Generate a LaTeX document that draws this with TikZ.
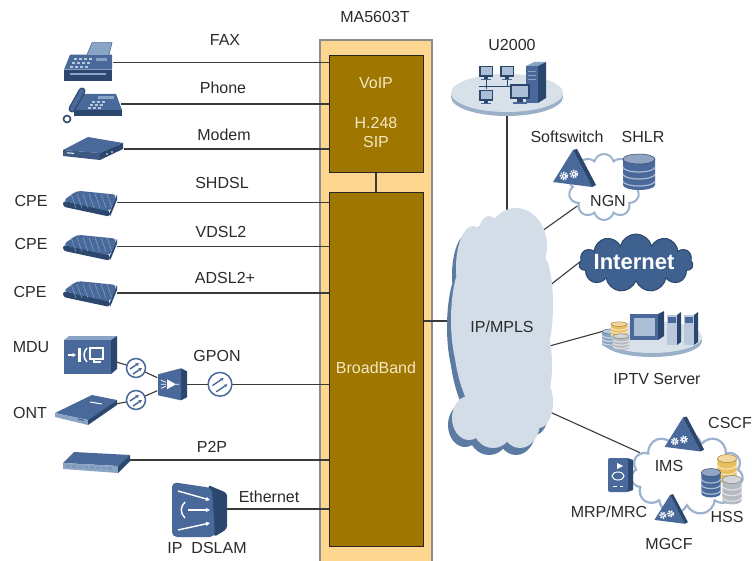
\documentclass[tikz,border=0pt]{standalone}
\usepackage{fontspec}
\setmainfont{Liberation Sans}
\usetikzlibrary{shapes.symbols,shapes.geometric,arrows.meta}

\definecolor{devblue}{HTML}{48699A}
\definecolor{devdark}{HTML}{2B476E}
\definecolor{devlight}{HTML}{8AA4C6}
\definecolor{boxouter}{HTML}{FDD68F}
\definecolor{boxedge}{HTML}{8C8C8C}
\definecolor{boxinner}{HTML}{9F7700}
\definecolor{boxtext}{HTML}{F5E7C4}
\definecolor{cloudfill}{HTML}{D3DDE8}
\definecolor{cloudshade}{HTML}{5B7BA3}
\definecolor{cloudline}{HTML}{9DB2CE}
\definecolor{netdark}{HTML}{3F6190}
\definecolor{platetop}{HTML}{D8E0EA}
\definecolor{plateedge}{HTML}{9AAFC8}
\definecolor{linkgray}{HTML}{3A3A3A}
\definecolor{txt}{HTML}{2A2A2A}
\definecolor{hssyellow}{HTML}{E9BE5E}
\definecolor{hssgray}{HTML}{B5BAC0}

\pgfdeclarelayer{chassis}
\pgfdeclarelayer{wires}
\pgfsetlayers{chassis,wires,main}

\tikzset{
  lbl/.style={font=\fontsize{16}{19}\selectfont, text=txt, inner sep=0pt},
  boxlbl/.style={font=\fontsize{16}{19}\selectfont, text=boxtext, inner sep=0pt},
  link/.style={draw=linkgray, line width=1.1pt},
  slot/.style={rectangle, inner sep=0pt},
  unitbox/.style={rectangle, fill=boxinner, draw=black!85, line width=0.9pt, inner sep=0pt},
  puffs/.style={cloud, cloud ignores aspect, inner sep=0pt},
  pics/cpe/.style={code={
    \fill[devdark, rounded corners=3pt] (-27,-2) -- (20,8) -- (20,14) -- (-27,4) -- cycle;
    \fill[devblue, rounded corners=4pt] (-27,-2) -- (-13,-12) -- (27,-8) -- (20,9) -- cycle;
    \foreach \k in {0,...,6} \draw[devlight, line width=0.5pt] (-19+6*\k,-9) -- (-14+6*\k,5);
    \fill[devdark] (20,9) -- (27,-8) -- (27,-3) -- (20,14) -- cycle;
  }},
  pics/fiber/.style={code={
    \draw[devblue, fill=white, line width=1.5pt] (0,0) circle (9.5pt);
    \draw[devblue, line width=1.4pt, -{Stealth[length=3.5pt,width=3.5pt]}] (-6,1) -- (3,-5);
    \draw[devblue, line width=1.4pt, -{Stealth[length=3.5pt,width=3.5pt]}] (-3,6) -- (6,0);
  }},
  pics/svc/.style={code={
    \fill[devblue] (-20,14) -- (0,-18) -- (19,19) -- cycle;
    \fill[devdark] (0,-18) -- (4,-19) -- (23,17) -- (19,19) -- cycle;
    \foreach \gx/\gy in {-9/8, 1/6} {
      \draw[white, line width=1.8pt, dash pattern=on 1.3pt off 1.1pt] (\gx,\gy) circle (3.4pt);
      \fill[white] (\gx,\gy) circle (2.3pt);
      \fill[devblue] (\gx,\gy) circle (1pt);
    }
  }},
  pics/db/.style={code={
    \fill[#1] (-16,-13) -- (-16,13) arc[start angle=180,end angle=360,x radius=16pt,y radius=5pt] -- (16,-13) -- cycle;
    \foreach \yy in {-5,2,9} \draw[#1!45!white, line width=1.2pt] (-16,\yy) arc[start angle=180,end angle=360,x radius=16pt,y radius=5pt];
    \fill[#1!60!white] (0,-13) ellipse [x radius=16pt, y radius=5pt];
    \draw[#1!70!black, line width=0.5pt] (0,-13) ellipse [x radius=16pt, y radius=5pt];
  }},
  pics/monitor/.style={code={
    \fill[devdark] (-7,-6) rectangle (7,5);
    \fill[devlight!70!white] (-5.5,-4.5) rectangle (5.5,3.5);
    \fill[devdark] (-2,5) rectangle (2,7);
    \fill[devblue] (-5,7) rectangle (5,8.5);
  }},
  % tall backbone cloud built from overlapping lobes
  pics/backbone/.style={code={
    \fill[#1]
      (0,0) ellipse [x radius=48pt, y radius=100pt]
      (15,-84) ellipse [x radius=31pt, y radius=38pt]
      (-12,-78) ellipse [x radius=14pt, y radius=36pt]
      (-28,-62) ellipse [x radius=17pt, y radius=42pt]
      (-33,-10) ellipse [x radius=17pt, y radius=60pt]
      (-32,88) ellipse [x radius=17pt, y radius=22pt]
      (-8,94) ellipse [x radius=21pt, y radius=24pt]
      (19,92) ellipse [x radius=20pt, y radius=26pt]
      (38,72) ellipse [x radius=14pt, y radius=26pt]
      (42,-25) ellipse [x radius=10pt, y radius=48pt]
      (41,35) ellipse [x radius=10pt, y radius=40pt];
  }}
}

\begin{document}
\begin{tikzpicture}[x=1pt,y=-1pt]
\useasboundingbox (0,0) rectangle (752,561);

% ---------- MA5603T chassis ----------
\begin{pgfonlayer}{chassis}
  \fill[boxouter] (320,40) rectangle (432,566);
  \draw[boxedge, line width=1.2pt] (320,566) -- (320,40) -- (432,40) -- (432,566);
\end{pgfonlayer}
\node[unitbox, minimum width=94, minimum height=117] (voip) at (376,113.5) {};
\node[unitbox, minimum width=94, minimum height=354] (bb) at (376,369) {};
\node[lbl] (chassisname) at (375,17) {MA5603T};
\node[boxlbl] (voiptxt) at (376,83) {VoIP};
\node[boxlbl] (h248txt) at (376,123) {H.248};
\node[boxlbl] (siptxt) at (376,142) {SIP};
\node[boxlbl] (bbtxt) at (376,368) {BroadBand};

% ---------- user side devices ----------
\node[slot, minimum width=49, minimum height=38] (fax) at (88,62.7) {};
\node[slot, minimum width=58, minimum height=35] (phone) at (92,104) {};
\node[slot, minimum width=60, minimum height=23] (modem) at (94,149) {};
\node[slot, minimum width=54, minimum height=28] (cpe1) at (90,202.7) {};
\node[slot, minimum width=54, minimum height=28] (cpe2) at (90,246.7) {};
\node[slot, minimum width=54, minimum height=28] (cpe3) at (90,293) {};
\node[slot, minimum width=53, minimum height=37] (mdu) at (90,354) {};
\node[slot, minimum width=62, minimum height=30] (ont) at (86,410) {};
\node[circle, inner sep=0pt, minimum size=19] (f1) at (136,368) {};
\node[circle, inner sep=0pt, minimum size=19] (f2) at (136,400) {};
\node[slot, minimum width=29, minimum height=32] (split) at (172,384.3) {};
\node[circle, inner sep=0pt, minimum size=24] (fg) at (220,384.3) {};
\node[slot, minimum width=67, minimum height=22] (p2p) at (96,460) {};
\node[slot, minimum width=55, minimum height=54] (dslam) at (198,509) {};

% ---------- network side ----------
\node[ellipse, inner sep=0pt, minimum width=112, minimum height=42] (u2000) at (507,94) {};
\pic at (497,337) {backbone=cloudshade};
\pic at (501,330) {backbone=cloudfill};
\node[ellipse, inner sep=0pt, minimum width=100, minimum height=244] (mpls) at (501,330) {};
\node[puffs, cloud puffs=10, minimum width=72, minimum height=66, fill=white, draw=cloudline, line width=2pt] (ngn) at (604,187) {};
\node[puffs, cloud puffs=11, minimum width=114, minimum height=58, fill=netdark, draw=devdark, line width=1pt] (inet) at (636,263) {};
\node[ellipse, inner sep=0pt, minimum width=100, minimum height=36] (iptv) at (652,337) {};
\node[puffs, cloud puffs=11, minimum width=112, minimum height=82, fill=white, draw=cloudline, line width=2.2pt] (ims) at (687,474) {};

\coordinate (mpls-w) at (470,321);
\coordinate (mpls-ngn) at (528,241);
\coordinate (mpls-inet) at (540,293);
\coordinate (inet-w) at (590,254);
\coordinate (mpls-iptv) at (535,350);
\coordinate (iptv-w) at (615,328);
\coordinate (mpls-ims) at (530,403);

% ---------- connectors ----------
\begin{pgfonlayer}{wires}
  \draw[link] (voip.south) -- (bb.north);
  \foreach \d in {fax,phone,modem} \draw[link] (\d) -- (\d -| voip.west);
  \foreach \d in {cpe1,cpe2,cpe3,p2p,dslam} \draw[link] (\d) -- (\d -| bb.west);
  \draw[link] (mdu) -- (f1) -- (split);
  \draw[link] (ont) -- (f2) -- (split);
  \draw[link] (split) -- (fg) -- (fg -| bb.west);
  \draw[link] (bb.east |- mpls-w) -- (mpls-w);
  \draw[link] (u2000.center) -- (u2000.center |- mpls.center);
  \draw[link] (mpls-ngn) -- (ngn);
  \draw[link] (mpls-inet) -- (inet-w);
  \draw[link] (mpls-iptv) -- (iptv-w);
  \draw[link] (mpls-ims) -- (ims);
\end{pgfonlayer}

% ---------- icons: fax ----------
\begin{scope}[shift={(fax.center)}]
  \fill[devlight] (-1,-8) -- (4,-20) -- (24,-20) -- (21,-8) -- cycle;
  \draw[devblue, line width=0.6pt] (-1,-8) -- (4,-20) -- (24,-20) -- (21,-8);
  \fill[devblue] (-24,7) -- (-18,-8) -- (24,-8) -- (24,7) -- cycle;
  \fill[devdark] (-24,7) rectangle (24,18);
  \fill[devlight] (-18,10) rectangle (18,12.5);
  \foreach \i in {0,1,2,3} \foreach \j in {0,1,2}
    \fill[devlight!60!white] (-14+5*\i-2*\j,-5+4*\j) rectangle ++(3,2);
  \fill[devlight] (8,-5) rectangle (19,-2);
\end{scope}

% ---------- phone ----------
\begin{scope}[shift={(phone.center)}]
  \fill[devblue] (-18,6) -- (-9,-10) -- (24,-10) -- (30,6) -- cycle;
  \fill[devdark] (-18,6) rectangle (30,12);
  \fill[devlight] (6,-8) rectangle (22,-5);
  \foreach \i in {0,1,2} \foreach \j in {0,1,2}
    \fill[devlight!60!white] (0+5*\i-2*\j,-3+3*\j) rectangle ++(3,1.8);
  \draw[devdark, line width=7pt, line cap=round] (-20,5) -- (-10,-13);
  \draw[devblue, line width=4.5pt, line cap=round] (-20,5) -- (-10,-13);
  \draw[devdark, line width=1.6pt] (-25,15) circle (3.5pt);
\end{scope}

% ---------- modem ----------
\begin{scope}[shift={(modem.center)}]
  \fill[devblue] (-31,1) -- (-6,-12) -- (29,-6) -- (6,4) -- cycle;
  \fill[devblue!85!black] (-31,1) -- (6,4) -- (6,11) -- (-31,7) -- cycle;
  \fill[devdark] (6,4) -- (29,-6) -- (29,0) -- (6,11) -- cycle;
  \draw[white, line width=1pt] (-27,3.8) -- (-20,4.4);
  \fill[white] (13,5) circle (0.9pt) (18,3) circle (0.9pt);
\end{scope}

% ---------- CPEs ----------
\pic at (cpe1.center) {cpe};
\pic at (cpe2.center) {cpe};
\pic at (cpe3.center) {cpe};

% ---------- MDU ----------
\begin{scope}[shift={(mdu.center)}]
  \fill[devlight] (-26,-14) -- (-21,-18) -- (27,-18) -- (21,-14) -- cycle;
  \fill[devdark] (21,-14) -- (27,-18) -- (27,15) -- (21,20) -- cycle;
  \fill[devblue] (-26,-14) rectangle (21,20);
  \draw[white, line width=1.6pt, -{Triangle[length=3.5pt,width=4pt]}] (-22,1) -- (-14,1);
  \fill[white] (-12,-6) rectangle (-9.5,8);
  \draw[white, line width=1.5pt] (-3,-6) .. controls (-7,-2) and (-7,4) .. (-3,8);
  \draw[white, line width=1.6pt] (0,-6) rectangle (13,5);
  \draw[white, line width=1.4pt] (4,5) -- (4,8) -- (11,8);
\end{scope}

% ---------- ONT ----------
\begin{scope}[shift={(ont.center)}]
  \fill[devblue] (-31,3) -- (6,-15) -- (31,-10) -- (2,10) -- cycle;
  \fill[devlight] (-31,3) -- (2,10) -- (2,15) -- (-31,7) -- cycle;
  \fill[devdark] (2,10) -- (31,-10) -- (31,-5) -- (2,15) -- cycle;
  \draw[white, line width=1pt] (4,-8) -- (16,-6);
  \draw[devdark, line width=0.8pt] (-8,9) -- (-2,10.5);
\end{scope}

% ---------- optical path ----------
\pic at (f1.center) {fiber};
\pic at (f2.center) {fiber};
\pic[scale=1.25] at (fg.center) {fiber};
\begin{scope}[shift={(split.center)}]
  \fill[devdark] (9,-16) -- (15,-13) -- (15,13) -- (9,16) -- cycle;
  \fill[devblue] (-14,-10) -- (9,-16) -- (9,16) -- (-14,11) -- cycle;
  \fill[white] (-5,-5) -- (4,0) -- (-5,5) -- cycle;
  \draw[white, line width=0.8pt] (-11,-4) -- (-6,-2) (-11,0) -- (-6,0) (-11,4) -- (-6,2) (4,0) -- (7,0);
\end{scope}

% ---------- P2P switch ----------
\begin{scope}[shift={(p2p.center)}]
  \fill[devblue] (-33,3) -- (-22,-8) -- (34,-5) -- (22,6) -- cycle;
  \fill[devlight] (-33,3) -- (22,6) -- (22,13) -- (-33,9) -- cycle;
  \fill[devdark] (22,6) -- (34,-5) -- (34,1) -- (22,13) -- cycle;
  \foreach \k in {0,...,7} \fill[devblue!70!white] (-30+6*\k,5+0.33*\k) rectangle ++(4,2.2);
\end{scope}

% ---------- IP DSLAM ----------
\begin{scope}[shift={(dslam.center)}]
  \fill[devdark, rounded corners=3pt] (10,-24) -- (29,-16) -- (29,20) -- (16,28) -- cycle;
  \fill[devblue, rounded corners=5pt] (-26,-27) -- (14,-21) -- (17,28) -- (-26,28) -- cycle;
  \draw[white, line width=1.4pt, -{Triangle[length=4pt,width=4pt]}] (-20,-18) -- (12,-9);
  \draw[white, line width=1.4pt, -{Triangle[length=4pt,width=4pt]}] (-10,1) -- (12,1);
  \draw[white, line width=1.4pt, -{Triangle[length=4pt,width=4pt]}] (-20,21) -- (12,14);
  \draw[white, line width=1.4pt] (-13,-7) .. controls (-18,-2) and (-18,4) .. (-13,9);
\end{scope}

% ---------- U2000 ----------
\fill[plateedge] (507,97) ellipse [x radius=56pt, y radius=19pt];
\fill[platetop] (507,93) ellipse [x radius=56pt, y radius=19pt];
\draw[devdark, line width=0.8pt] (479,86) -- (518,86) (486,86) -- (486,80) (507,86) -- (507,80) (486,86) -- (486,89);
\pic at (486,72) {monitor};
\pic at (507,72) {monitor};
\pic at (486,96) {monitor};
\fill[devlight] (526,66) -- (534,62) -- (546,62) -- (538,66) -- cycle;
\fill[devdark] (538,66) -- (546,62) -- (546,98) -- (538,103) -- cycle;
\fill[devblue] (526,66) rectangle (538,103);
\foreach \k in {0,1,2} \draw[devlight, line width=0.8pt] (528,71+4*\k) -- (536,71+4*\k);
\pic[scale=1.4] at (520,92) {monitor};

% ---------- NGN ----------
\pic at (573,168) {svc};
\pic at (639,172) {db=devblue};

% ---------- IPTV server ----------
\fill[plateedge] (652,341) ellipse [x radius=50pt, y radius=16pt];
\fill[platetop] (652,337) ellipse [x radius=50pt, y radius=16pt];
\pic[xscale=0.55,yscale=0.5] at (611,338) {db=devlight};
\pic[xscale=0.5,yscale=0.45] at (619,330) {db=hssyellow};
\pic[xscale=0.5,yscale=0.45] at (621,342) {db=hssgray};
\fill[devdark] (658,314) -- (664,311) -- (664,336) -- (658,340) -- cycle;
\fill[devblue] (630,314) rectangle (658,340);
\fill[devlight!70!white] (634,318) rectangle (655,336);
\foreach \sx in {667,684} {
  \fill[devdark] (\sx+10,315) -- (\sx+14,312) -- (\sx+14,342) -- (\sx+10,345) -- cycle;
  \fill[devlight!60!white] (\sx,315) rectangle (\sx+10,345);
  \fill[devblue] (\sx+1,317) rectangle (\sx+9,323);
}

% ---------- IMS ----------
\pic[scale=0.92] at (683,434) {svc};
\pic[scale=0.78] at (670,509) {svc};
\pic[xscale=0.6,yscale=0.8] at (727,469) {db=hssyellow};
\pic[xscale=0.6,yscale=0.8] at (711,483) {db=devblue};
\pic[xscale=0.6,yscale=0.8] at (732,490) {db=hssgray};
\begin{scope}[shift={(620,475)}]
  \fill[devdark] (7,-17) -- (13,-15) -- (13,15) -- (7,17) -- cycle;
  \fill[devblue, rounded corners=2pt] (-12,-17) rectangle (8,17);
  \fill[white] (-3,-12) -- (3,-9) -- (-3,-6) -- cycle;
  \draw[white, line width=1pt] (-2,1) ellipse [x radius=6pt, y radius=4pt];
  \draw[white, line width=0.8pt] (-7,11) -- (-3,11) (0,11) -- (3,11);
\end{scope}

% ---------- labels ----------
\node[lbl] (faxlbl) at (225,40) {FAX};
\node[lbl] (phonelbl) at (223,88) {Phone};
\node[lbl] (modemlbl) at (224,135) {Modem};
\node[lbl] (shdsllbl) at (222,183) {SHDSL};
\node[lbl] (vdsllbl) at (221,232) {VDSL2};
\node[lbl] (adsllbl) at (225,278) {ADSL2+};
\node[lbl] (gponlbl) at (217,356) {GPON};
\node[lbl] (p2plbl) at (212,447) {P2P};
\node[lbl] (ethlbl) at (269,497) {Ethernet};
\node[lbl] (dslamlbl) at (207,548) {IP\hspace{9pt}DSLAM};
\node[lbl] (cpe1lbl) at (31,201) {CPE};
\node[lbl] (cpe2lbl) at (31,244) {CPE};
\node[lbl] (cpe3lbl) at (30,292) {CPE};
\node[lbl] (mdulbl) at (31,347) {MDU};
\node[lbl] (ontlbl) at (30,413) {ONT};

\node[lbl] (u2000lbl) at (512,45) {U2000};
\node[lbl] (swlbl) at (567,137) {Softswitch};
\node[lbl] (shlrlbl) at (643,137) {SHLR};
\node[lbl] (ngnlbl) at (608,201) {NGN};
\node[lbl] (mplslbl) at (502,327) {IP/MPLS};
\node[font=\bfseries\fontsize{22}{24}\selectfont, text=white, inner sep=0pt] (inetlbl) at (634,262) {Internet};
\node[lbl] (iptvlbl) at (657,379) {IPTV Server};
\node[lbl] (cscflbl) at (730,423) {CSCF};
\node[lbl] (imslbl) at (669,466) {IMS};
\node[lbl] (mrplbl) at (609,512) {MRP/MRC};
\node[lbl] (hsslbl) at (727,517) {HSS};
\node[lbl] (mgcflbl) at (669,544) {MGCF};
\end{tikzpicture}
\end{document}
